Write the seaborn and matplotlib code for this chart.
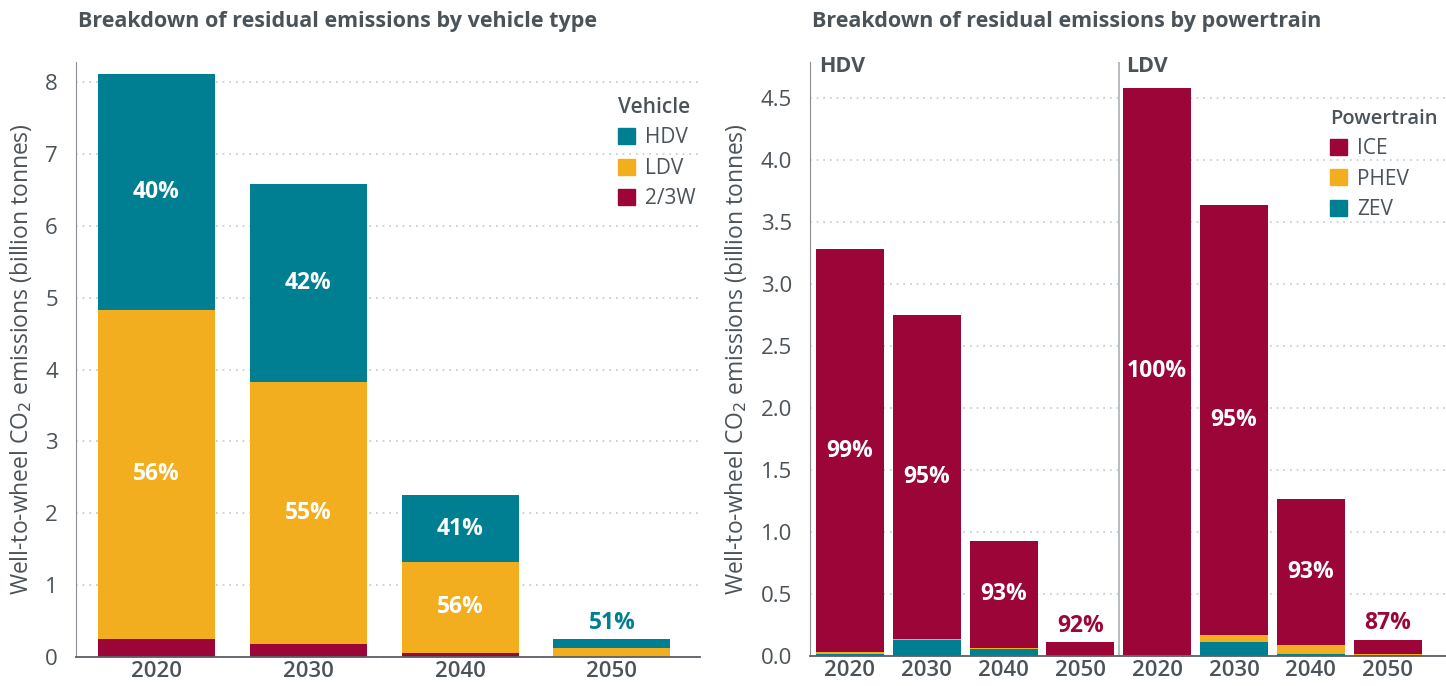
import numpy as np
import pandas as pd
import matplotlib
matplotlib.use("Agg")
import matplotlib.pyplot as plt
from matplotlib.patches import Patch
import seaborn as sns

# --- data (billion tonnes) ---
years = ["2020", "2030", "2040", "2050"]

# left panel: by vehicle type
w23 = [0.25, 0.18, 0.06, 0.005]
ldv = [4.58, 3.64, 1.26, 0.12]
hdv = [3.28, 2.76, 0.93, 0.13]
vehicle_names = ["HDV", "LDV", "2/3W"]

# right panel: by powertrain, HDV group then LDV group
groups = ["HDV", "LDV"]
hdv_zev = [0.02, 0.13, 0.06, 0.008]
hdv_phev = [0.01, 0.006, 0.005, 0.001]
hdv_ice = [3.25, 2.61, 0.865, 0.104]
ldv_zev = [0.002, 0.11, 0.02, 0.012]
ldv_phev = [0.01, 0.06, 0.07, 0.005]
ldv_ice = [4.57, 3.47, 1.18, 0.115]
powertrain_names = ["ICE", "PHEV", "ZEV"]

left_yticks = [0, 1, 2, 3, 4, 5, 6, 7, 8]
right_yticks = [0.0, 0.5, 1.0, 1.5, 2.0, 2.5, 3.0, 3.5, 4.0, 4.5]

TEAL = "#007f92"
GOLD = "#f2ae1e"
CRIMSON = "#9c0538"
TXT = "#4b5359"
GRID = "#c4c8cc"

sns.set_style("white")
plt.rcParams["font.family"] = ["Open Sans", "DejaVu Sans"]
plt.rcParams["text.color"] = TXT
plt.rcParams["axes.labelcolor"] = TXT
plt.rcParams["xtick.color"] = TXT
plt.rcParams["ytick.color"] = TXT

fig = plt.figure(figsize=(14.46, 6.86), dpi=100)
ax1 = fig.add_axes([76 / 1446, 29 / 686, 624 / 1446, 595 / 686])
ax2 = fig.add_axes([810 / 1446, 30 / 686, 636 / 1446, 594 / 686])

ylabel = "Well-to-wheel CO$_2$ emissions (billion tonnes)"
PCT = 16.5


def style_axis(ax, ticks, fmt):
    ax.set_yticks(ticks)
    ax.set_yticklabels([fmt(t) for t in ticks], fontsize=16)
    ax.tick_params(axis="y", length=0, pad=13)
    ax.tick_params(axis="x", length=0, pad=3, labelsize=16)
    for lab in ax.get_xticklabels():
        lab.set_fontweight("semibold")
    ax.yaxis.grid(True, linestyle=(0, (1, 3)), color=GRID, linewidth=1.2)
    ax.set_axisbelow(True)
    sns.despine(ax=ax, top=True, right=True)
    ax.spines["left"].set_color("#8a9096")
    ax.spines["bottom"].set_color("#5a6066")
    ax.spines["bottom"].set_linewidth(1.3)
    ax.set_ylabel(ylabel, fontsize=16.5, labelpad=8)
    ax.set_xlabel("")


# ---------- left panel ----------
df_v = pd.DataFrame({"year": years, "w23": w23, "ldv": ldv, "hdv": hdv})
df_v["low"] = df_v["w23"]
df_v["mid"] = df_v["w23"] + df_v["ldv"]
df_v["total"] = df_v["mid"] + df_v["hdv"]

for col, c in [("total", TEAL), ("mid", GOLD), ("low", CRIMSON)]:
    sns.barplot(data=df_v, x="year", y=col, color=c, saturation=1,
                width=0.77, ax=ax1, order=years, linewidth=0)

ax1.set_xlim(-0.53, 3.58)
ax1.set_ylim(0, 8.28)
style_axis(ax1, left_yticks, lambda t: f"{t:d}")

for i, r in df_v.iterrows():
    if r["total"] > 1:
        ax1.text(i, (r["mid"] + r["total"]) / 2, f"{r['hdv'] / r['total'] * 100:.0f}%",
                 ha="center", va="center", color="white", fontsize=PCT, fontweight="bold")
        ax1.text(i, (r["low"] + r["mid"]) / 2, f"{r['ldv'] / r['total'] * 100:.0f}%",
                 ha="center", va="center", color="white", fontsize=PCT, fontweight="bold")
    else:
        ax1.annotate(f"{r['hdv'] / r['total'] * 100:.0f}%", (i, r["total"]),
                     xytext=(0, 3), textcoords="offset points", ha="center", va="bottom",
                     color=TEAL, fontsize=PCT, fontweight="bold")

h1 = [Patch(color=c) for c in [TEAL, GOLD, CRIMSON]]
leg1 = ax1.legend(h1, vehicle_names, title="Vehicle", loc="upper left",
                  bbox_to_anchor=(0.855, 0.955), frameon=False, fontsize=15,
                  title_fontproperties={"weight": "semibold", "size": 15},
                  handlelength=0.8, handleheight=0.8, handletextpad=0.5,
                  labelspacing=0.45, borderaxespad=0)
leg1._legend_box.align = "left"

# ---------- right panel ----------
keys = [f"{g} {y}" for g in groups for y in years]
df_p = pd.DataFrame({
    "key": keys,
    "zev": hdv_zev + ldv_zev,
    "phev": hdv_phev + ldv_phev,
    "ice": hdv_ice + ldv_ice,
})
df_p["low"] = df_p["zev"]
df_p["mid"] = df_p["zev"] + df_p["phev"]
df_p["total"] = df_p["mid"] + df_p["ice"]

for col, c in [("total", CRIMSON), ("mid", GOLD), ("low", TEAL)]:
    sns.barplot(data=df_p, x="key", y=col, color=c, saturation=1,
                width=0.885, ax=ax2, order=keys, linewidth=0)

ax2.set_xlim(-0.52, 7.76)
ax2.set_ylim(0, 4.79)
ax2.set_xticks(range(len(keys)))
ax2.set_xticklabels(years * len(groups))
style_axis(ax2, right_yticks, lambda t: f"{t:.1f}")

for i, r in df_p.iterrows():
    share = f"{r['ice'] / r['total'] * 100:.0f}%"
    if r["total"] > 0.5:
        ax2.text(i, (r["mid"] + r["total"]) / 2, share, ha="center", va="center",
                 color="white", fontsize=PCT, fontweight="bold")
    else:
        ax2.annotate(share, (i, r["total"]), xytext=(0, 3), textcoords="offset points",
                     ha="center", va="bottom", color=CRIMSON, fontsize=PCT, fontweight="bold")

ax2.axvline(3.5, color="#aab0b5", linewidth=1.2, zorder=0)
for gi, g in enumerate(groups):
    ax2.text(gi * 4 - 0.4, 0.993, g, transform=ax2.get_xaxis_transform(),
             ha="left", va="center", fontsize=15.5, fontweight="bold")

h2 = [Patch(color=c) for c in [CRIMSON, GOLD, TEAL]]
leg2 = ax2.legend(h2, powertrain_names, title="Powertrain", loc="upper left",
                  bbox_to_anchor=(0.805, 0.935), frameon=False, fontsize=15,
                  title_fontproperties={"weight": "semibold", "size": 14.5},
                  handlelength=0.8, handleheight=0.8, handletextpad=0.5,
                  labelspacing=0.45, borderaxespad=0)
leg2._legend_box.align = "left"

# panel titles
fig.text(78 / 1446, 1 - 22 / 686, "Breakdown of residual emissions by vehicle type",
         ha="left", va="center", fontsize=15.5, fontweight="bold")
fig.text(812 / 1446, 1 - 22 / 686, "Breakdown of residual emissions by powertrain",
         ha="left", va="center", fontsize=15.5, fontweight="bold")

fig.savefig("out.png", dpi=100)
